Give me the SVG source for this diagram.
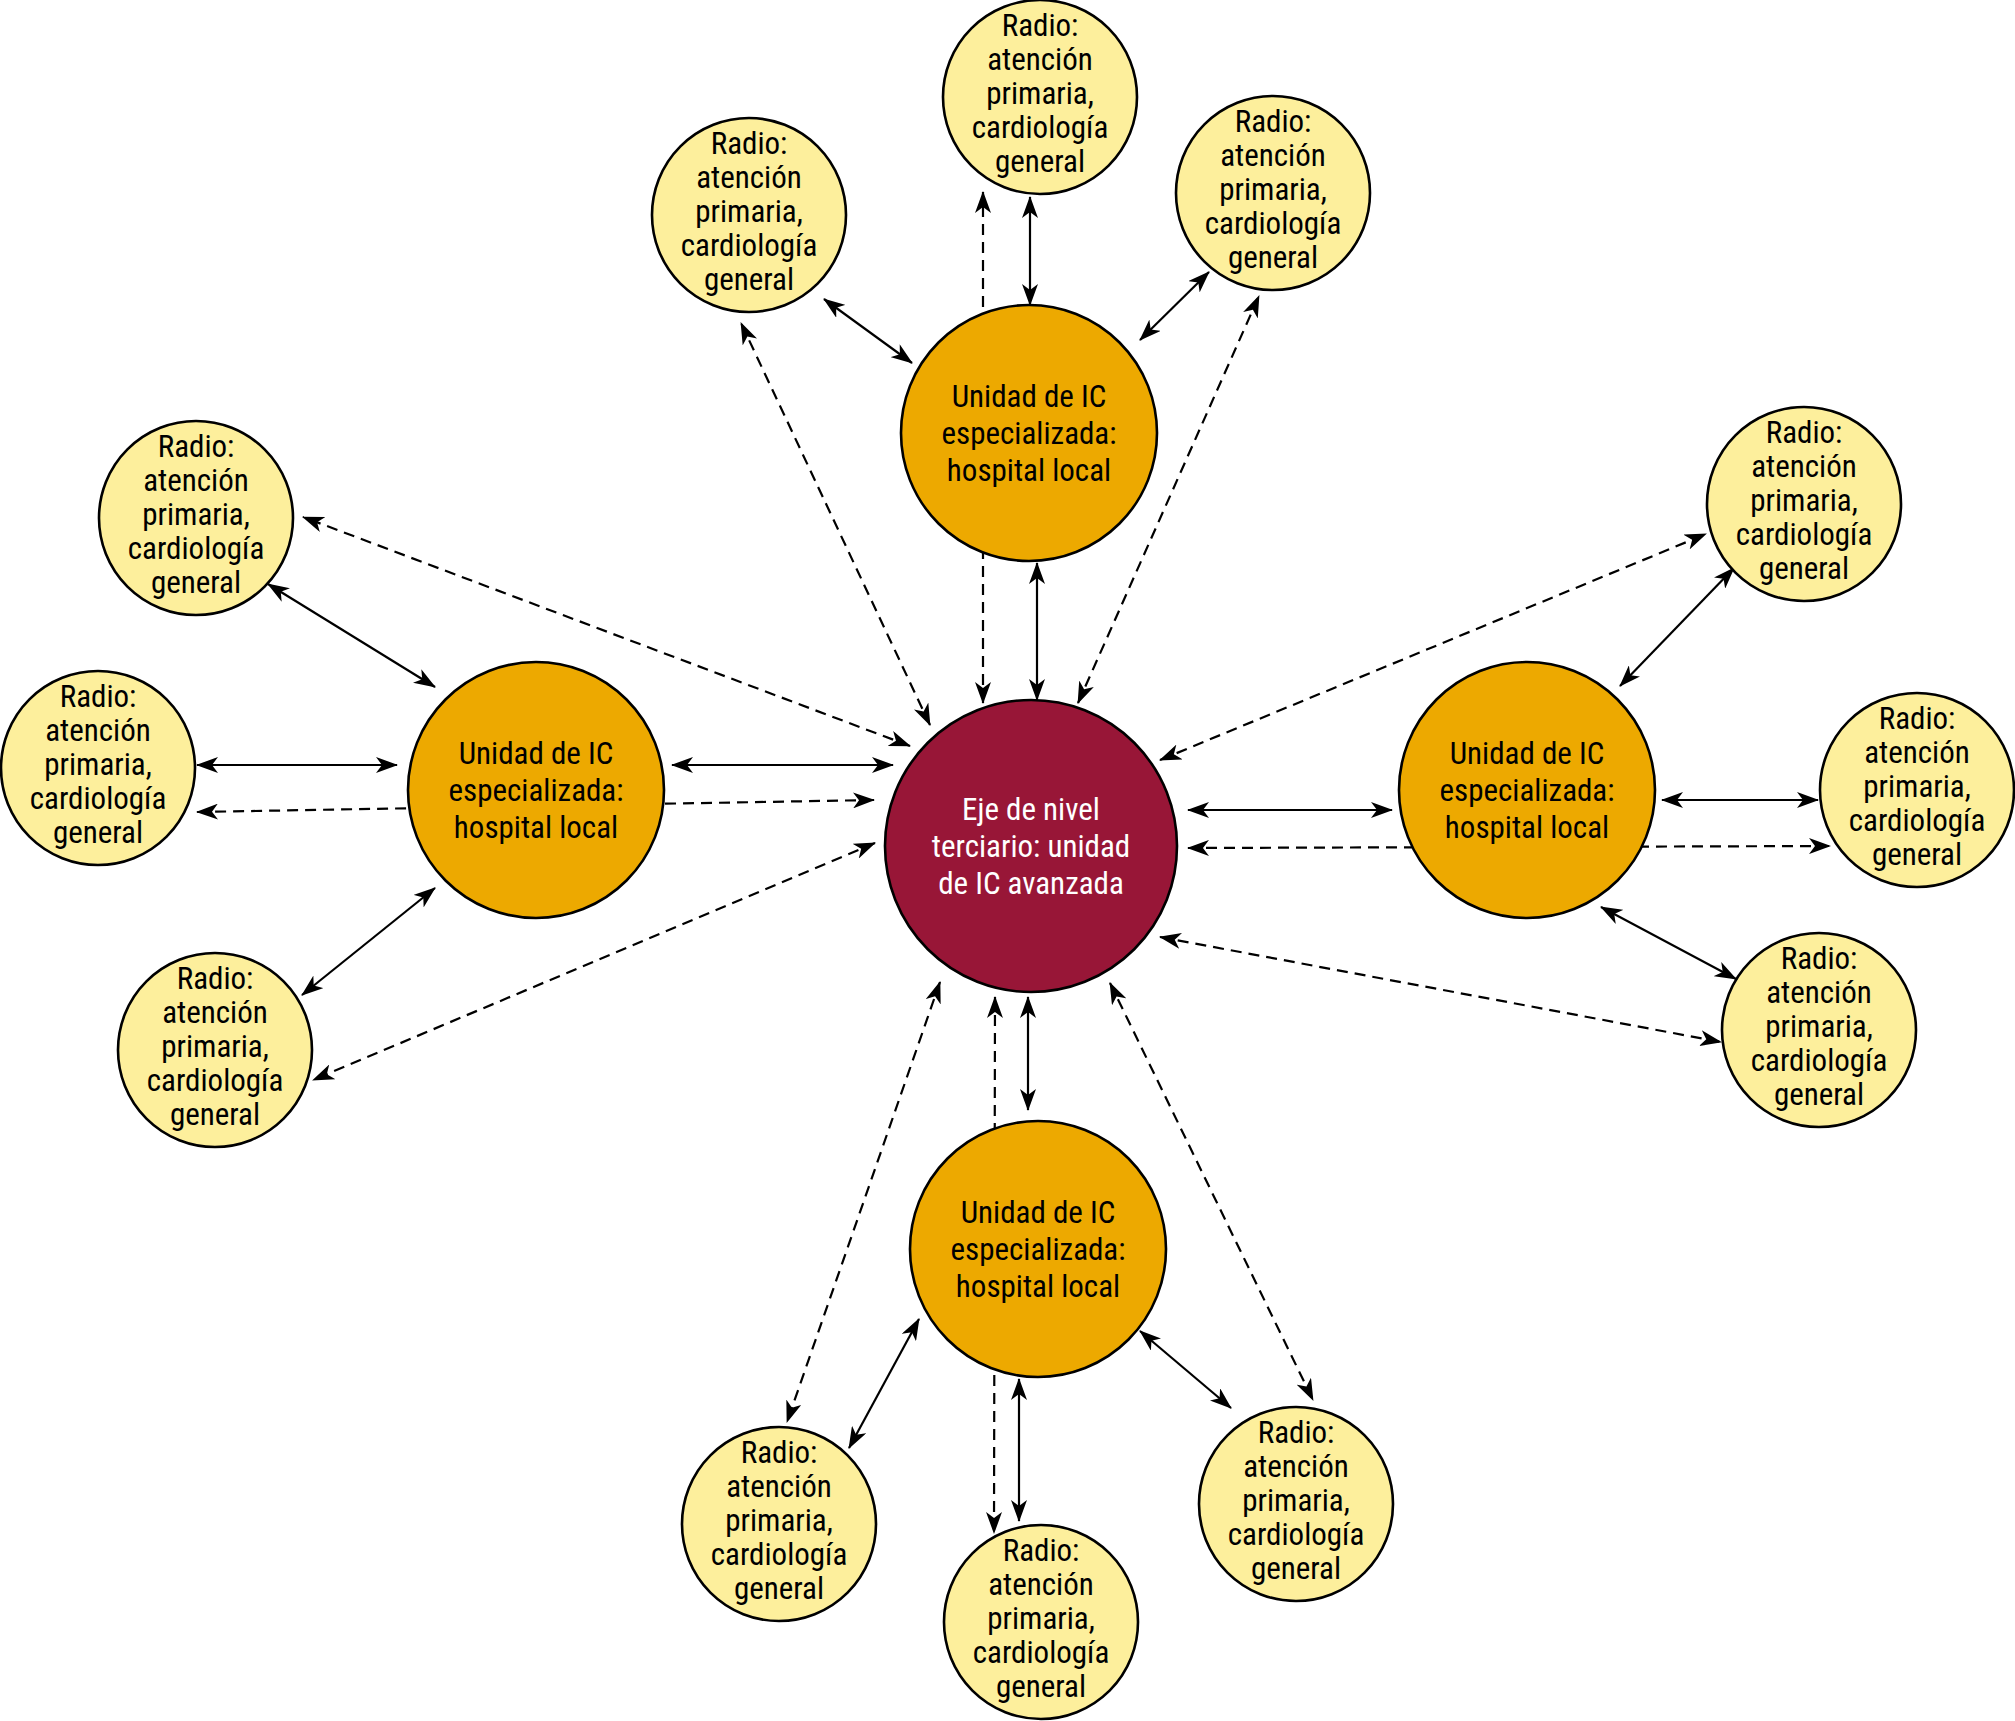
<svg xmlns="http://www.w3.org/2000/svg" width="2015" height="1721" viewBox="0 0 2015 1721">
<style>
.solid{stroke:#000;stroke-width:2.2;fill:none;marker-start:url(#ah);marker-end:url(#ah)}
.dash{stroke:#000;stroke-width:2.2;fill:none;stroke-dasharray:11 7;marker-start:url(#ah);marker-end:url(#ah)}
.c{stroke:#000;stroke-width:2.6}
.center{fill:#981637}
.hub{fill:#EDA900}
.radio{fill:#FDEF9C}
text{font-family:"Liberation Sans Narrow","Roboto Condensed","Liberation Sans",sans-serif;font-size:31px;text-anchor:middle;dominant-baseline:central}
.w{fill:#fff}
.k{fill:#000}
</style>
<defs>
<marker id="ah" viewBox="0 0 22 16" refX="21" refY="8" markerWidth="22" markerHeight="16" markerUnits="userSpaceOnUse" orient="auto-start-reverse">
<path d="M0,0 L22,8 L0,16 L6,8 z" fill="#000"/>
</marker>
</defs>
<rect width="2015" height="1721" fill="#fff"/>
<g id="connectors">
<line class="solid" x1="1030" y1="197" x2="1030" y2="305"/>
<line class="solid" x1="824" y1="299" x2="912" y2="363"/>
<line class="solid" x1="1209" y1="272" x2="1140" y2="340"/>
<line class="solid" x1="1037" y1="563" x2="1037" y2="700"/>
<line class="solid" x1="268" y1="584" x2="435" y2="687"/>
<line class="solid" x1="197" y1="765" x2="397" y2="765"/>
<line class="solid" x1="302" y1="995" x2="435" y2="888"/>
<line class="solid" x1="672" y1="765" x2="893" y2="765"/>
<line class="solid" x1="1734" y1="568" x2="1620" y2="686"/>
<line class="solid" x1="1818" y1="800" x2="1662" y2="800"/>
<line class="solid" x1="1736" y1="979" x2="1601" y2="907"/>
<line class="solid" x1="1392" y1="810" x2="1188" y2="810"/>
<line class="solid" x1="1028" y1="1110" x2="1028" y2="997"/>
<line class="solid" x1="849" y1="1448" x2="919" y2="1319"/>
<line class="solid" x1="1019" y1="1521" x2="1019" y2="1379"/>
<line class="solid" x1="1231" y1="1408" x2="1140" y2="1331"/>
<line class="dash" x1="983" y1="703" x2="983" y2="192"/>
<line class="dash" x1="930" y1="725" x2="741" y2="323"/>
<line class="dash" x1="1078" y1="703" x2="1259" y2="296"/>
<line class="dash" x1="910" y1="746" x2="303" y2="517"/>
<line class="dash" x1="874" y1="800" x2="197" y2="812"/>
<line class="dash" x1="875" y1="843" x2="313" y2="1080"/>
<line class="dash" x1="1160" y1="760" x2="1706" y2="534"/>
<line class="dash" x1="1188" y1="848" x2="1830" y2="846"/>
<line class="dash" x1="1160" y1="937" x2="1721" y2="1042"/>
<line class="dash" x1="940" y1="982" x2="787" y2="1422"/>
<line class="dash" x1="995" y1="997" x2="994" y2="1533"/>
<line class="dash" x1="1110" y1="983" x2="1313" y2="1400"/>
</g>
<g id="center">
<circle class="c center" cx="1031" cy="846" r="146"/>
<text class="w" x="1031" y="809">Eje de nivel</text>
<text class="w" x="1031" y="846">terciario: unidad</text>
<text class="w" x="1031" y="883">de IC avanzada</text>
</g>
<g id="hub-top">
<circle class="c hub" cx="1029" cy="433" r="128"/>
<text class="k" x="1029" y="396">Unidad de IC</text>
<text class="k" x="1029" y="433">especializada:</text>
<text class="k" x="1029" y="470">hospital local</text>
</g>
<g id="hub-left">
<circle class="c hub" cx="536" cy="790" r="128"/>
<text class="k" x="536" y="753">Unidad de IC</text>
<text class="k" x="536" y="790">especializada:</text>
<text class="k" x="536" y="827">hospital local</text>
</g>
<g id="hub-right">
<circle class="c hub" cx="1527" cy="790" r="128"/>
<text class="k" x="1527" y="753">Unidad de IC</text>
<text class="k" x="1527" y="790">especializada:</text>
<text class="k" x="1527" y="827">hospital local</text>
</g>
<g id="hub-bottom">
<circle class="c hub" cx="1038" cy="1249" r="128"/>
<text class="k" x="1038" y="1212">Unidad de IC</text>
<text class="k" x="1038" y="1249">especializada:</text>
<text class="k" x="1038" y="1286">hospital local</text>
</g>
<g id="radio-tl">
<circle class="c radio" cx="749" cy="215" r="97"/>
<text class="k" x="749" y="143">Radio:</text>
<text class="k" x="749" y="177">atención</text>
<text class="k" x="749" y="211">primaria,</text>
<text class="k" x="749" y="245">cardiología</text>
<text class="k" x="749" y="279">general</text>
</g>
<g id="radio-tc">
<circle class="c radio" cx="1040" cy="97" r="97"/>
<text class="k" x="1040" y="25">Radio:</text>
<text class="k" x="1040" y="59">atención</text>
<text class="k" x="1040" y="93">primaria,</text>
<text class="k" x="1040" y="127">cardiología</text>
<text class="k" x="1040" y="161">general</text>
</g>
<g id="radio-tr">
<circle class="c radio" cx="1273" cy="193" r="97"/>
<text class="k" x="1273" y="121">Radio:</text>
<text class="k" x="1273" y="155">atención</text>
<text class="k" x="1273" y="189">primaria,</text>
<text class="k" x="1273" y="223">cardiología</text>
<text class="k" x="1273" y="257">general</text>
</g>
<g id="radio-lt">
<circle class="c radio" cx="196" cy="518" r="97"/>
<text class="k" x="196" y="446">Radio:</text>
<text class="k" x="196" y="480">atención</text>
<text class="k" x="196" y="514">primaria,</text>
<text class="k" x="196" y="548">cardiología</text>
<text class="k" x="196" y="582">general</text>
</g>
<g id="radio-lm">
<circle class="c radio" cx="98" cy="768" r="97"/>
<text class="k" x="98" y="696">Radio:</text>
<text class="k" x="98" y="730">atención</text>
<text class="k" x="98" y="764">primaria,</text>
<text class="k" x="98" y="798">cardiología</text>
<text class="k" x="98" y="832">general</text>
</g>
<g id="radio-lb">
<circle class="c radio" cx="215" cy="1050" r="97"/>
<text class="k" x="215" y="978">Radio:</text>
<text class="k" x="215" y="1012">atención</text>
<text class="k" x="215" y="1046">primaria,</text>
<text class="k" x="215" y="1080">cardiología</text>
<text class="k" x="215" y="1114">general</text>
</g>
<g id="radio-rt">
<circle class="c radio" cx="1804" cy="504" r="97"/>
<text class="k" x="1804" y="432">Radio:</text>
<text class="k" x="1804" y="466">atención</text>
<text class="k" x="1804" y="500">primaria,</text>
<text class="k" x="1804" y="534">cardiología</text>
<text class="k" x="1804" y="568">general</text>
</g>
<g id="radio-rm">
<circle class="c radio" cx="1917" cy="790" r="97"/>
<text class="k" x="1917" y="718">Radio:</text>
<text class="k" x="1917" y="752">atención</text>
<text class="k" x="1917" y="786">primaria,</text>
<text class="k" x="1917" y="820">cardiología</text>
<text class="k" x="1917" y="854">general</text>
</g>
<g id="radio-rb">
<circle class="c radio" cx="1819" cy="1030" r="97"/>
<text class="k" x="1819" y="958">Radio:</text>
<text class="k" x="1819" y="992">atención</text>
<text class="k" x="1819" y="1026">primaria,</text>
<text class="k" x="1819" y="1060">cardiología</text>
<text class="k" x="1819" y="1094">general</text>
</g>
<g id="radio-bl">
<circle class="c radio" cx="779" cy="1524" r="97"/>
<text class="k" x="779" y="1452">Radio:</text>
<text class="k" x="779" y="1486">atención</text>
<text class="k" x="779" y="1520">primaria,</text>
<text class="k" x="779" y="1554">cardiología</text>
<text class="k" x="779" y="1588">general</text>
</g>
<g id="radio-bm">
<circle class="c radio" cx="1041" cy="1622" r="97"/>
<text class="k" x="1041" y="1550">Radio:</text>
<text class="k" x="1041" y="1584">atención</text>
<text class="k" x="1041" y="1618">primaria,</text>
<text class="k" x="1041" y="1652">cardiología</text>
<text class="k" x="1041" y="1686">general</text>
</g>
<g id="radio-br">
<circle class="c radio" cx="1296" cy="1504" r="97"/>
<text class="k" x="1296" y="1432">Radio:</text>
<text class="k" x="1296" y="1466">atención</text>
<text class="k" x="1296" y="1500">primaria,</text>
<text class="k" x="1296" y="1534">cardiología</text>
<text class="k" x="1296" y="1568">general</text>
</g>
</svg>
